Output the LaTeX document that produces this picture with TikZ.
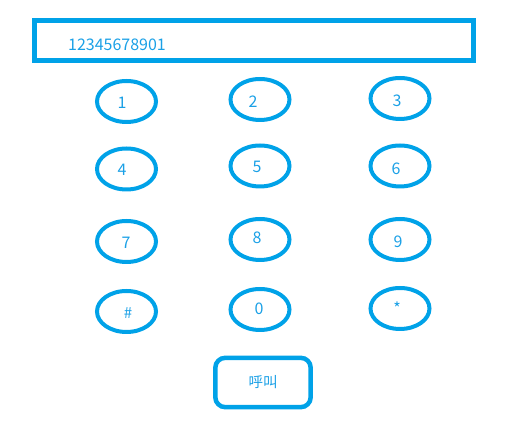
\documentclass[tikz,border=0pt]{standalone}
\usepackage{fontspec}
\setmainfont{Noto Sans CJK SC}
\usetikzlibrary{shapes.geometric}
\definecolor{phoneblue}{HTML}{00A2E8}
\definecolor{phonetext}{HTML}{1AA0E6}
\tikzset{
  keyoval/.style={draw=phoneblue, line width=4pt, ellipse, minimum width=59pt, minimum height=41pt, inner sep=0pt},
  keytext/.style={text=phonetext, font=\fontsize{16pt}{16pt}\selectfont, anchor=base, inner sep=0pt},
  screenbox/.style={draw=phoneblue, line width=5pt},
  callbox/.style={draw=phoneblue, line width=4.5pt, rounded corners=10pt, minimum width=95.4pt, minimum height=49.4pt, inner sep=0pt, text=phonetext, font=\fontsize{14.5pt}{14.5pt}\selectfont}
}
\begin{document}
\begin{tikzpicture}[x=1pt,y=-1pt]
\useasboundingbox (0,0) rectangle (512,427);
% screen
\draw[screenbox] (34.5,20.5) rectangle (473.5,61);
\node[keytext, anchor=base west] (screen) at (68,50.5) {12345678901};
% keys
\node[keyoval] (k1) at (126.5,101.5) {};
\node[keyoval] (k2) at (260,99.5) {};
\node[keyoval] (k3) at (400,98.5) {};
\node[keyoval] (k4) at (126.5,169) {};
\node[keyoval] (k5) at (260,166) {};
\node[keyoval] (k6) at (400,166) {};
\node[keyoval] (k7) at (126.5,241.5) {};
\node[keyoval] (k8) at (260,239.5) {};
\node[keyoval] (k9) at (400,239.5) {};
\node[keyoval] (khash) at (126.5,311.5) {};
\node[keyoval] (k0) at (260,309.5) {};
\node[keyoval] (kstar) at (400,308.5) {};
% key labels
\node[keytext] (t1) at (122,109) {1};
\node[keytext] (t2) at (253,108) {2};
\node[keytext] (t3) at (397,107) {3};
\node[keytext] (t4) at (122,176) {4};
\node[keytext] (t5) at (257,173) {5};
\node[keytext] (t6) at (396,175) {6};
\node[keytext] (t7) at (126,249) {7};
\node[keytext] (t8) at (257,244) {8};
\node[keytext] (t9) at (398,248) {9};
\node[keytext, font=\fontsize{15pt}{15pt}\selectfont] (thash) at (128,318.5) {\#};
\node[keytext] (t0) at (259,315) {0};
\node[keytext] (tstar) at (397,315) {*};
% call button
\node[callbox] (call) at (263,382.5) {呼叫};
\end{tikzpicture}
\end{document}
